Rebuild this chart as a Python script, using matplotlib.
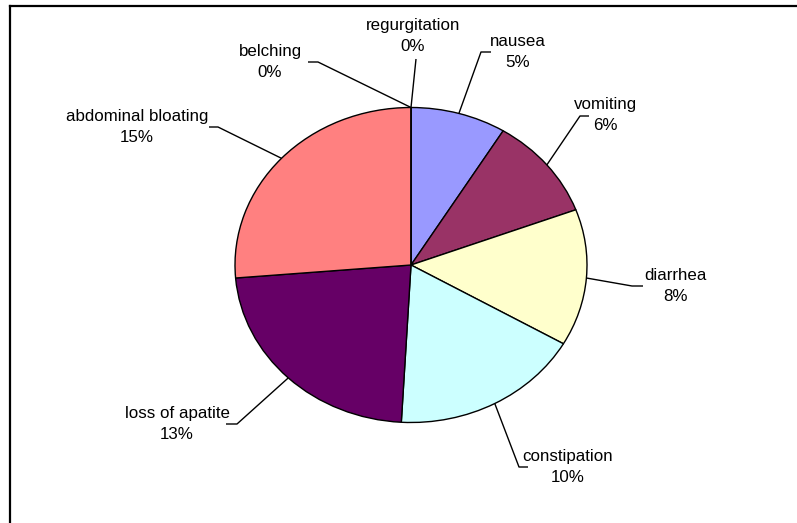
import numpy as np
import matplotlib
matplotlib.use("Agg")
import matplotlib.pyplot as plt
from matplotlib.lines import Line2D

# ---- data ----
categories = ["regurgitation", "nausea", "vomiting", "diarrhea", "constipation",
              "loss of apatite", "abdominal bloating", "belching"]
values = [0, 5, 6, 8, 10, 13, 15, 0]
pct_labels = ["0%", "5%", "6%", "8%", "10%", "13%", "15%", "0%"]
colors = ["#9999FF", "#9999FF", "#993366", "#FFFFCC", "#CCFFFF",
          "#660066", "#FF8080", "#FF8080"]

W, H = 797, 523
fig = plt.figure(figsize=(W / 100, H / 100), dpi=100)
ax = fig.add_axes([0, 0, 1, 1])

# pixel geometry of the ellipse
cx, cy, rx, ry = 411, 265, 176, 157.5

wedges, _ = ax.pie(values, colors=colors, startangle=90, counterclock=False,
                   radius=1.0,
                   wedgeprops=dict(edgecolor="black", linewidth=1.0))
ax.set_aspect("auto")
ax.set_xlim(-cx / rx, (W - cx) / rx)
ax.set_ylim(-(H - cy) / ry, cy / ry)
ax.axis("off")


def px2d(px, py):
    return (px - cx) / rx, (cy - py) / ry


# label layout (pixels): text centre, elbow point, horizontal end
layout = {
    "regurgitation": dict(text=(413, 36), elbow=(416, 59), hend=None),
    "nausea": dict(text=(518, 52), elbow=(481, 52), hend=(491, 52)),
    "vomiting": dict(text=(605, 115), elbow=(580, 116), hend=(589, 116)),
    "diarrhea": dict(text=(675, 286), elbow=(632, 286), hend=(643, 286)),
    "constipation": dict(text=(568, 467), elbow=(519, 467), hend=(528, 467)),
    "loss of apatite": dict(text=(177, 424), elbow=(237, 424), hend=(226, 424)),
    "abdominal bloating": dict(text=(137, 127), elbow=(218, 127), hend=(209, 127)),
    "belching": dict(text=(270, 62), elbow=(318, 62), hend=(308, 62)),
}

total = float(sum(values))
cum = 0.0
for name, v, pl in zip(categories, values, pct_labels):
    mid = cum + v / 2.0
    cum += v
    ang = np.deg2rad(90 - 360.0 * mid / total)
    ax_pt = (np.cos(ang), np.sin(ang))
    lay = layout[name]
    ex, ey = px2d(*lay["elbow"])
    xs = [ax_pt[0], ex]
    ys = [ax_pt[1], ey]
    if lay["hend"] is not None:
        hx, hy = px2d(*lay["hend"])
        xs.append(hx)
        ys.append(hy)
    ax.plot(xs, ys, color="black", linewidth=1.0, solid_capstyle="butt")
    tx, ty = px2d(*lay["text"])
    ax.text(tx, ty, f"{name}\n{pl}", ha="center", va="center",
            fontsize=12.2, family="Liberation Sans", linespacing=1.55,
            color="black")

# chart border (top and left visible)
fig.add_artist(Line2D([10 / W, 1.0], [1 - 6 / H, 1 - 6 / H],
                      transform=fig.transFigure, color="black", linewidth=1.6))
fig.add_artist(Line2D([10 / W, 10 / W], [1 - 6 / H, 0.0],
                      transform=fig.transFigure, color="black", linewidth=1.6))

fig.savefig("out.png", dpi=100)
